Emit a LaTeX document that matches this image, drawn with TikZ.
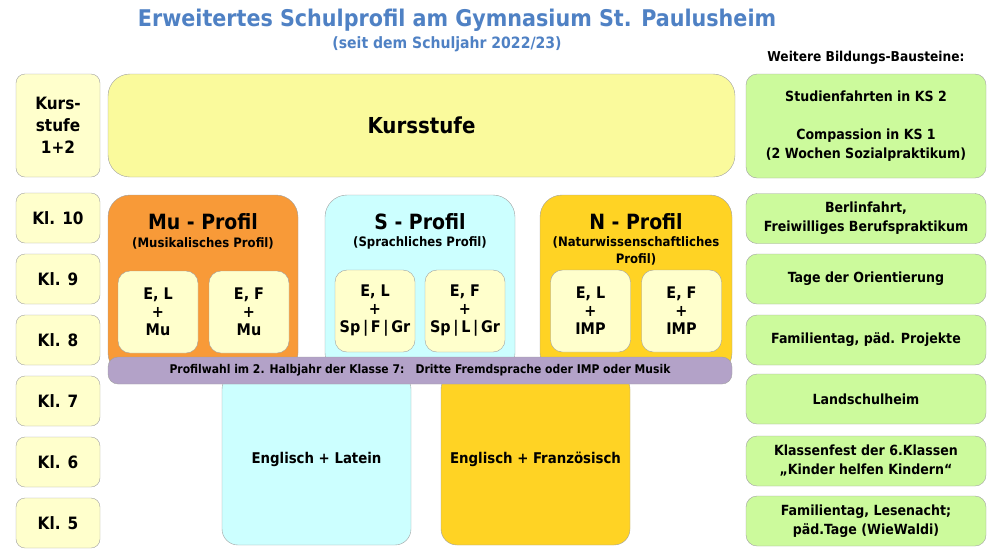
\documentclass[tikz,border=0pt]{standalone}
\usepackage{fontspec}
\setmainfont{DejaVu Sans Condensed Bold}
\definecolor{titelblau}{HTML}{4F81C4}
\definecolor{rahmen}{HTML}{A0A0A0}
\definecolor{klgelb}{HTML}{FFFFCC}
\definecolor{ksgelb}{HTML}{FAFA9C}
\definecolor{muorange}{HTML}{F89A38}
\definecolor{stuerkis}{HTML}{CCFFFF}
\definecolor{ngold}{HTML}{FFD324}
\definecolor{lila}{HTML}{B3A2C8}
\definecolor{gruen}{HTML}{CCFA9C}
\begin{document}
\begin{tikzpicture}[x=1pt,y=-1pt,
  kl/.style={draw=rahmen,fill=klgelb,rounded corners=9pt,align=center,inner sep=0pt,
    minimum width=84pt,minimum height=50pt,font=\fontsize{17}{22}\selectfont},
  profil/.style={draw=rahmen,rounded corners=22pt,inner sep=0pt,minimum width=190pt,minimum height=180pt},
  fach/.style={draw=rahmen,fill=klgelb,rounded corners=12pt,align=center,inner sep=0pt,
    minimum width=80pt,minimum height=82pt,font=\fontsize{16}{18}\selectfont},
  unter/.style={draw=rahmen,rounded corners=16pt,inner sep=0pt,minimum width=189pt,minimum height=172pt,
    font=\fontsize{14.8}{19}\selectfont},
  baustein/.style={draw=rahmen,fill=gruen,rounded corners=11pt,align=center,inner sep=0pt,
    minimum width=240pt,minimum height=50pt,font=\fontsize{14}{19}\selectfont},
  kopf/.style={font=\fontsize{21}{25}\selectfont,inner sep=0pt},
  zusatz/.style={font=\fontsize{13}{17}\selectfont,align=center,inner sep=0pt}]
\useasboundingbox (0,0) rectangle (1000,558);

\node[text=titelblau,font=\fontsize{23}{28}\selectfont] (titel) at (457,20) {Erweitertes Schulprofil am Gymnasium St. Paulusheim};
\node[text=titelblau,font=\fontsize{15.6}{19}\selectfont] (seit) at (447,44) {(seit dem Schuljahr 2022/23)};
\node[font=\fontsize{13.6}{17}\selectfont] (weitere) at (866,58) {Weitere Bildungs-Bausteine:};

\node[kl,minimum height=103pt] (ks) at (58,125.5) {Kurs-\\stufe\\1+2};
\foreach \k in {10,9,8,7,6,5}
  \node[kl] (kl\k) at (58,{218+61*(10-\k)}) {Kl. \k};

\node[draw=rahmen,fill=ksgelb,rounded corners=22pt,minimum width=627pt,minimum height=103pt,
  font=\fontsize{22}{26}\selectfont] (kursstufe) at (421.5,125.5) {Kursstufe};

\node[profil,fill=muorange] (mu) at (203,285) {};
\node[profil,fill=stuerkis] (s) at (420,285) {};
\node[profil,fill=ngold,minimum width=192pt] (n) at (636,285) {};

\node[kopf] (mukopf) at (203,222) {Mu - Profil};
\node[zusatz] (muzus) at (203,243) {(Musikalisches Profil)};
\node[kopf] (skopf) at (420,222) {S - Profil};
\node[zusatz] (szus) at (420,243) {(Sprachliches Profil)};
\node[kopf] (nkopf) at (636,222) {N - Profil};
\node[zusatz] (nzus) at (636,251) {(Naturwissenschaftliches\\Profil)};

\node[fach] (muel) at (158,312) {E, L\\+\\Mu};
\node[fach] (muef) at (249,312) {E, F\\+\\Mu};
\node[fach] (sel) at (375,311) {E, L\\+\\Sp\,|\,F\,|\,Gr};
\node[fach] (sef) at (465,311) {E, F\\+\\Sp\,|\,L\,|\,Gr};
\node[fach] (nel) at (590.5,311) {E, L\\+\\IMP};
\node[fach] (nef) at (681.5,311) {E, F\\+\\IMP};

\node[unter,fill=stuerkis] (latein) at (316.5,459) {Englisch + Latein};
\node[unter,fill=ngold] (franz) at (535.5,459) {Englisch + Französisch};

\node[draw=rahmen,fill=lila,rounded corners=10pt,minimum width=624pt,minimum height=27pt,inner sep=0pt,
  font=\fontsize{12}{15}\selectfont] (wahl) at (420,370.5)
  {Profilwahl im 2. Halbjahr der Klasse 7:\ \ \ Dritte Fremdsprache oder IMP oder Musik};

\node[baustein,minimum height=104pt] (b1) at (866,126) {Studienfahrten in KS 2\\[19pt]Compassion in KS 1\\(2 Wochen Sozialpraktikum)};
\node[baustein] (b2) at (866,218.5) {Berlinfahrt,\\Freiwilliges Berufspraktikum};
\node[baustein] (b3) at (866,279) {Tage der Orientierung};
\node[baustein] (b4) at (866,340) {Familientag, päd. Projekte};
\node[baustein] (b5) at (866,399) {Landschulheim};
\node[baustein] (b6) at (866,461) {Klassenfest der 6.Klassen\\„Kinder helfen Kindern“};
\node[baustein] (b7) at (866,521) {Familientag, Lesenacht;\\päd.Tage (WieWaldi)};
\end{tikzpicture}
\end{document}
